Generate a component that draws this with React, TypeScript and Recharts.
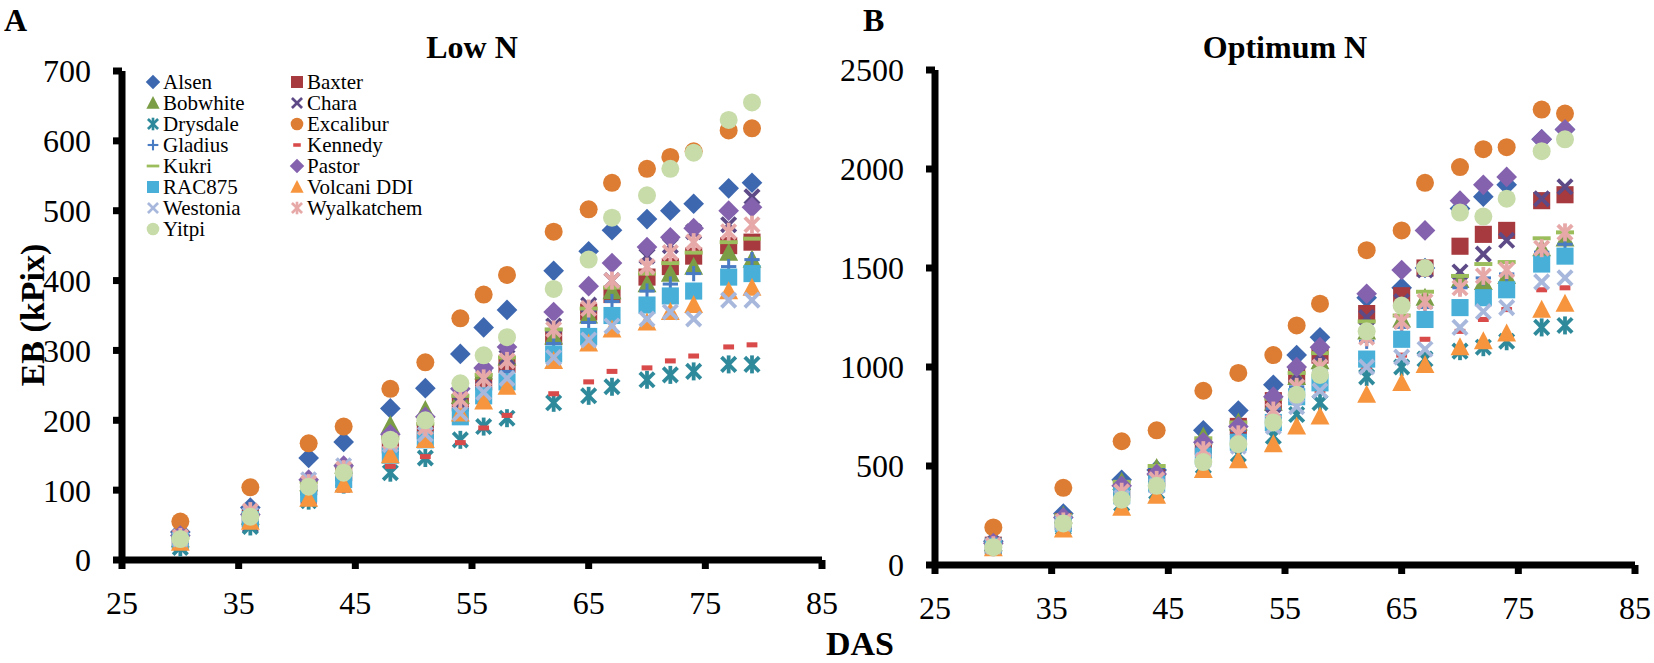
import React from 'react';
import { ScatterChart, Scatter, XAxis, YAxis } from 'recharts';

// days after sowing, shared by both panels
const DAS = [30, 36, 41, 44, 48, 51, 54, 56, 58, 62, 65, 67, 70, 72, 74, 77, 79];

const X_TICKS = [25, 35, 45, 55, 65, 75, 85];
const LOW_TICKS = [0, 100, 200, 300, 400, 500, 600, 700];
const OPT_TICKS = [0, 500, 1000, 1500, 2000, 2500];

// Low N, EB (kPix)
const LOW_ALSEN = [40, 75, 146, 169, 217, 246, 295, 333, 358, 414, 442, 472, 488, 500, 510, 532, 540];
const LOW_BAXTER = [30, 60, 105, 125, 165, 185, 225, 255, 280, 320, 355, 380, 405, 420, 435, 450, 455];
const LOW_BOBWHITE = [30, 62, 110, 135, 193, 215, 235, 270, 290, 320, 350, 385, 395, 410, 420, 440, 430];
const LOW_CHARA = [25, 50, 90, 115, 160, 185, 225, 262, 290, 335, 365, 400, 435, 450, 470, 480, 520];
const LOW_DRYSDALE = [18, 48, 85, 108, 125, 146, 172, 191, 203, 225, 235, 248, 258, 265, 270, 280, 280];
const LOW_EXCALIBUR = [55, 104, 167, 191, 245, 283, 346, 380, 408, 470, 502, 540, 560, 577, 585, 615, 618];
const LOW_GLADIUS = [30, 60, 100, 120, 160, 180, 215, 245, 270, 310, 340, 370, 385, 395, 410, 420, 430];
const LOW_KENNEDY = [20, 50, 85, 100, 134, 148, 168, 189, 207, 238, 255, 270, 275, 285, 292, 305, 308];
const LOW_KUKRI = [32, 65, 112, 135, 175, 195, 235, 265, 290, 330, 360, 390, 410, 425, 440, 455, 460];
const LOW_PASTOR = [35, 65, 115, 135, 180, 205, 245, 275, 305, 355, 392, 425, 448, 462, 475, 500, 505];
const LOW_RAC875 = [28, 58, 95, 115, 150, 172, 205, 235, 255, 295, 320, 350, 365, 378, 385, 405, 410];
const LOW_VOLCANI = [25, 55, 88, 108, 150, 172, 210, 227, 248, 285, 310, 330, 340, 355, 365, 385, 390];
const LOW_WESTONIA = [30, 65, 115, 135, 165, 180, 210, 240, 260, 290, 315, 335, 345, 355, 345, 372, 372];
const LOW_WYALKATCHEM = [33, 70, 110, 130, 170, 190, 230, 260, 285, 330, 360, 400, 420, 440, 455, 470, 480];
const LOW_YITPI = [30, 62, 105, 125, 172, 200, 253, 293, 319, 388, 430, 490, 522, 560, 583, 630, 655];

// Optimum N, EB (kPix)
const OPT_ALSEN = [120, 260, 430, 480, 680, 780, 910, 1060, 1150, 1350, 1400, 1500, 1800, 1860, 1920, 2150, 2200];
const OPT_BAXTER = [100, 220, 380, 440, 600, 700, 830, 960, 1060, 1270, 1360, 1500, 1610, 1670, 1690, 1840, 1870];
const OPT_BOBWHITE = [110, 250, 420, 490, 650, 720, 820, 950, 1030, 1180, 1240, 1350, 1440, 1430, 1460, 1600, 1650];
const OPT_CHARA = [100, 220, 380, 440, 590, 680, 810, 960, 1060, 1250, 1330, 1490, 1480, 1570, 1640, 1850, 1910];
const OPT_DRYSDALE = [90, 190, 310, 370, 500, 560, 650, 760, 820, 950, 1000, 1040, 1080, 1100, 1130, 1200, 1210];
const OPT_EXCALIBUR = [190, 390, 625, 680, 880, 970, 1060, 1210, 1320, 1590, 1690, 1930, 2010, 2100, 2110, 2300, 2280];
const OPT_GLADIUS = [100, 230, 390, 450, 600, 680, 790, 900, 980, 1130, 1200, 1300, 1400, 1450, 1470, 1580, 1620];
const OPT_KENNEDY = [90, 200, 330, 390, 520, 590, 700, 820, 880, 1000, 1060, 1140, 1180, 1240, 1290, 1390, 1400];
const OPT_KUKRI = [110, 250, 420, 500, 640, 720, 840, 970, 1070, 1230, 1260, 1380, 1460, 1520, 1530, 1650, 1680];
const OPT_PASTOR = [110, 240, 400, 460, 620, 700, 850, 1000, 1100, 1370, 1490, 1690, 1840, 1920, 1960, 2150, 2200];
const OPT_RAC875 = [95, 210, 350, 410, 550, 620, 720, 850, 920, 1040, 1140, 1240, 1300, 1350, 1390, 1520, 1560];
const OPT_VOLCANI = [85, 180, 290, 350, 480, 530, 610, 700, 750, 860, 920, 1010, 1100, 1130, 1170, 1290, 1320];
const OPT_WESTONIA = [95, 210, 340, 400, 530, 600, 700, 800, 880, 1000, 1050, 1090, 1200, 1280, 1300, 1430, 1450];
const OPT_WYALKATCHEM = [100, 220, 370, 430, 580, 660, 780, 900, 1000, 1150, 1230, 1330, 1400, 1460, 1490, 1600, 1680];
const OPT_YITPI = [90, 210, 330, 400, 520, 610, 720, 860, 960, 1180, 1310, 1500, 1780, 1760, 1850, 2090, 2150];

type Kind = 'diamond' | 'square' | 'triangle' | 'cross' | 'star' | 'circle' | 'plus' | 'dash' | 'longdash';

const SERIES: { name: string; kind: Kind; color: string; low: number[]; opt: number[] }[] = [
  { name: 'Alsen', kind: 'diamond', color: '#3D68B0', low: LOW_ALSEN, opt: OPT_ALSEN },
  { name: 'Baxter', kind: 'square', color: '#A63A3E', low: LOW_BAXTER, opt: OPT_BAXTER },
  { name: 'Bobwhite', kind: 'triangle', color: '#7A9D45', low: LOW_BOBWHITE, opt: OPT_BOBWHITE },
  { name: 'Chara', kind: 'cross', color: '#5D4A87', low: LOW_CHARA, opt: OPT_CHARA },
  { name: 'Drysdale', kind: 'star', color: '#2E8A9B', low: LOW_DRYSDALE, opt: OPT_DRYSDALE },
  { name: 'Excalibur', kind: 'circle', color: '#DD7D33', low: LOW_EXCALIBUR, opt: OPT_EXCALIBUR },
  { name: 'Gladius', kind: 'plus', color: '#4A7CC4', low: LOW_GLADIUS, opt: OPT_GLADIUS },
  { name: 'Kennedy', kind: 'dash', color: '#D94A4A', low: LOW_KENNEDY, opt: OPT_KENNEDY },
  { name: 'Kukri', kind: 'longdash', color: '#9CBD5C', low: LOW_KUKRI, opt: OPT_KUKRI },
  { name: 'Pastor', kind: 'diamond', color: '#8462AE', low: LOW_PASTOR, opt: OPT_PASTOR },
  { name: 'RAC875', kind: 'square', color: '#47AFD8', low: LOW_RAC875, opt: OPT_RAC875 },
  { name: 'Volcani DDI', kind: 'triangle', color: '#F7953E', low: LOW_VOLCANI, opt: OPT_VOLCANI },
  { name: 'Westonia', kind: 'cross', color: '#A7B8DC', low: LOW_WESTONIA, opt: OPT_WESTONIA },
  { name: 'Wyalkatchem', kind: 'star', color: '#E7A8A8', low: LOW_WYALKATCHEM, opt: OPT_WYALKATCHEM },
  { name: 'Yitpi', kind: 'circle', color: '#C8DCAA', low: LOW_YITPI, opt: OPT_YITPI },
];

const FONT = 'Liberation Serif, Tinos, Times New Roman, DejaVu Serif, serif';

function Marker({ cx, cy, kind, color, s }: { cx: number; cy: number; kind: Kind; color: string; s: number }) {
  if (cx == null || cy == null) return null;
  const sw = s * 0.42;
  switch (kind) {
    case 'circle':
      return <circle cx={cx} cy={cy} r={s} fill={color} />;
    case 'diamond':
      return (
        <polygon
          points={`${cx},${cy - s * 1.15} ${cx + s * 1.15},${cy} ${cx},${cy + s * 1.15} ${cx - s * 1.15},${cy}`}
          fill={color}
        />
      );
    case 'square':
      return <rect x={cx - s * 0.95} y={cy - s * 0.95} width={s * 1.9} height={s * 1.9} fill={color} />;
    case 'triangle':
      return (
        <polygon
          points={`${cx},${cy - s * 1.1} ${cx + s * 1.05},${cy + s * 0.9} ${cx - s * 1.05},${cy + s * 0.9}`}
          fill={color}
        />
      );
    case 'cross':
      return (
        <g stroke={color} strokeWidth={sw}>
          <line x1={cx - s * 0.8} y1={cy - s * 0.8} x2={cx + s * 0.8} y2={cy + s * 0.8} />
          <line x1={cx - s * 0.8} y1={cy + s * 0.8} x2={cx + s * 0.8} y2={cy - s * 0.8} />
        </g>
      );
    case 'star':
      return (
        <g stroke={color} strokeWidth={sw}>
          <line x1={cx - s * 0.8} y1={cy - s * 0.8} x2={cx + s * 0.8} y2={cy + s * 0.8} />
          <line x1={cx - s * 0.8} y1={cy + s * 0.8} x2={cx + s * 0.8} y2={cy - s * 0.8} />
          <line x1={cx} y1={cy - s} x2={cx} y2={cy + s} />
        </g>
      );
    case 'plus':
      return (
        <g stroke={color} strokeWidth={sw * 0.8}>
          <line x1={cx - s * 0.85} y1={cy} x2={cx + s * 0.85} y2={cy} />
          <line x1={cx} y1={cy - s * 0.85} x2={cx} y2={cy + s * 0.85} />
        </g>
      );
    case 'dash':
      return <rect x={cx - s * 0.6} y={cy - s * 0.28} width={s * 1.2} height={s * 0.56} fill={color} />;
    case 'longdash':
      return <rect x={cx - s} y={cy - s * 0.22} width={s * 2} height={s * 0.44} fill={color} />;
    default:
      return null;
  }
}

const toPoints = (values: number[]) => DAS.map((d, i) => ({ x: d, y: values[i] }));

const axisLine = { stroke: '#000', strokeWidth: 7 };
const tickLine = { stroke: '#000', strokeWidth: 7 };
const tickStyle = { fontSize: 32, fill: '#000', fontFamily: FONT };

function Panel({
  width,
  margin,
  yWidth,
  domain,
  ticks,
  field,
}: {
  width: number;
  margin: { top: number; right: number; bottom: number; left: number };
  yWidth: number;
  domain: [number, number];
  ticks: number[];
  field: 'low' | 'opt';
}) {
  return (
    <ScatterChart width={width} height={663} margin={margin} style={{ fontFamily: FONT }}>
      <XAxis
        type="number"
        dataKey="x"
        domain={[25, 85]}
        ticks={X_TICKS}
        height={60}
        axisLine={axisLine}
        tickLine={tickLine}
        tickSize={9}
        tickMargin={22}
        tick={tickStyle}
        interval={0}
      />
      <YAxis
        type="number"
        dataKey="y"
        domain={domain}
        ticks={ticks}
        width={yWidth}
        axisLine={axisLine}
        tickLine={tickLine}
        tickSize={9}
        tickMargin={22}
        tick={tickStyle}
        interval={0}
      />
      {SERIES.map((s) => (
        <Scatter
          key={s.name}
          name={s.name}
          data={toPoints(s[field])}
          isAnimationActive={false}
          shape={(p: any) => <Marker cx={p.cx} cy={p.cy} kind={s.kind} color={s.color} s={9} />}
        />
      ))}
    </ScatterChart>
  );
}

export default function App() {
  return (
    <div
      style={{
        position: 'absolute',
        left: 0,
        top: 0,
        width: 1654,
        height: 663,
        background: '#fff',
        fontFamily: FONT,
      }}
    >
      <div style={{ position: 'absolute', left: 0, top: 0 }}>
        <Panel
          width={840}
          margin={{ top: 71, right: 18, bottom: 43, left: 0 }}
          yWidth={122}
          domain={[0, 700]}
          ticks={LOW_TICKS}
          field="low"
        />
      </div>
      <div style={{ position: 'absolute', left: 840, top: 0 }}>
        <Panel
          width={814}
          margin={{ top: 70, right: 19, bottom: 38, left: 0 }}
          yWidth={95}
          domain={[0, 2500]}
          ticks={OPT_TICKS}
          field="opt"
        />
      </div>
      <svg
        width={1654}
        height={663}
        style={{ position: 'absolute', left: 0, top: 0, pointerEvents: 'none', fontFamily: FONT }}
      >
        <text x={4} y={31} fontSize={32} fontWeight="bold">A</text>
        <text x={863} y={31} fontSize={32} fontWeight="bold">B</text>
        <text x={472} y={58} fontSize={32} fontWeight="bold" textAnchor="middle">Low N</text>
        <text x={1285} y={58} fontSize={32} fontWeight="bold" textAnchor="middle">Optimum N</text>
        <text
          x={0}
          y={0}
          fontSize={34}
          fontWeight="bold"
          textAnchor="middle"
          dominantBaseline="central"
          transform="translate(32,315) rotate(-90)"
        >
          EB (kPix)
        </text>
        <text x={860} y={655} fontSize={34} fontWeight="bold" textAnchor="middle">DAS</text>
        {SERIES.map((s, i) => {
          const col = i % 2;
          const row = Math.floor(i / 2);
          const mx = col === 0 ? 153 : 297;
          const my = 82 + row * 21;
          return (
            <g key={s.name}>
              <Marker cx={mx} cy={my} kind={s.kind} color={s.color} s={6.3} />
              <text x={mx + 10} y={my} fontSize={21} dominantBaseline="central">
                {s.name}
              </text>
            </g>
          );
        })}
      </svg>
    </div>
  );
}
